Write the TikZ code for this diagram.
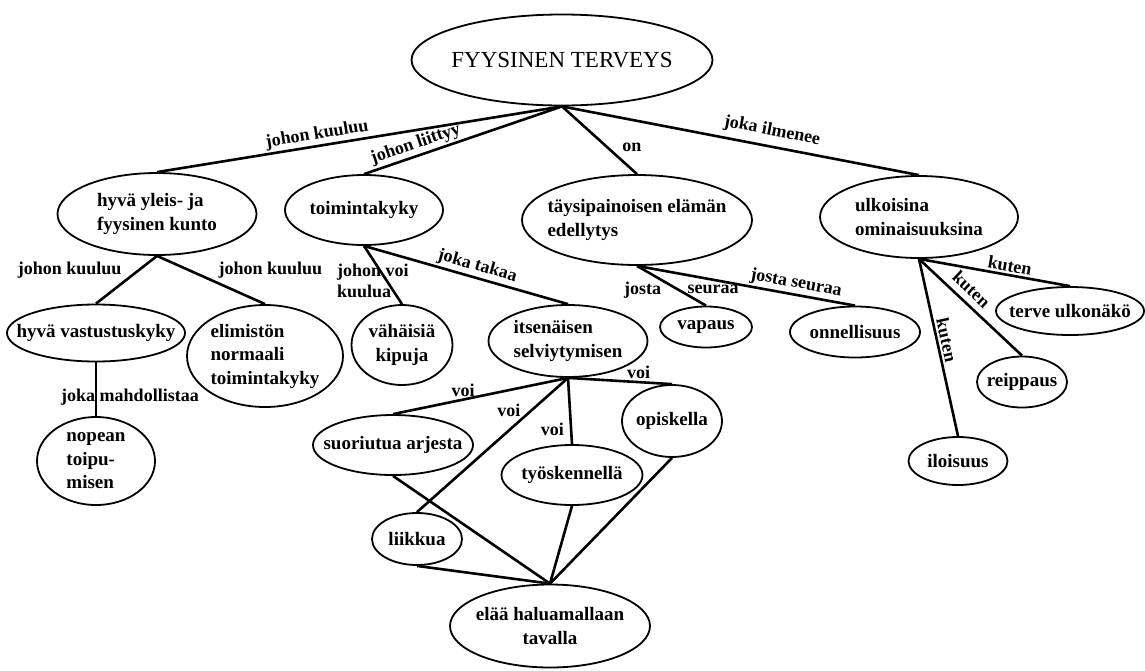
\documentclass[tikz,border=0pt]{standalone}
\usepackage{fontspec}
\setmainfont{Liberation Serif}
\usetikzlibrary{shapes.geometric}
\begin{document}
\begin{tikzpicture}[x=1pt,y=-1pt,
  concept/.style={ellipse, draw, line width=1.8pt, inner xsep=-30pt, inner ysep=-20pt,
    font=\bfseries\fontsize{19}{23.5}\selectfont},
  link/.style={line width=2.6pt},
  lbl/.style={font=\bfseries\fontsize{18}{21}\selectfont, inner sep=2pt}]
\useasboundingbox (0,0) rectangle (1145,670);

% concepts
\node[concept, minimum width=301pt, minimum height=91pt, font=\mdseries\fontsize{23}{27}\selectfont] (top) at (562,60) {FYYSINEN TERVEYS};
\node[concept, minimum width=199pt, minimum height=82pt, align=left] (kunto) at (157,214) {hyvä yleis- ja\\fyysinen kunto};
\node[concept, minimum width=158pt, minimum height=70pt] (toimi) at (364,210) {toimintakyky};
\node[concept, minimum width=230pt, minimum height=90pt, align=left] (edell) at (637,220) {täysipainoisen elämän\\edellytys};
\node[concept, minimum width=198pt, minimum height=82pt, align=left] (ulko) at (919,217) {ulkoisina\\ominaisuuksina};

\node[concept, minimum width=178pt, minimum height=57pt] (vastus) at (96,333) {hyvä vastustuskyky};
\node[concept, minimum width=156pt, minimum height=102pt, align=left] (elim) at (265,356) {elimistön\\normaali\\toimintakyky};
\node[concept, minimum width=118pt, minimum height=88pt, align=left] (nopea) at (96,461) {nopean\\toipu-\\misen};
\node[concept, minimum width=101pt, minimum height=80pt, align=center] (vahai) at (402,345) {vähäisiä\\kipuja};
\node[concept, minimum width=159pt, minimum height=72pt, align=left] (itsen) at (568,341) {itsenäisen\\selviytymisen};
\node[concept, minimum width=92pt, minimum height=41pt] (vapaus) at (706,327) {vapaus};
\node[concept, minimum width=130pt, minimum height=51pt] (onnel) at (855,332) {onnellisuus};
\node[concept, minimum width=148pt, minimum height=48pt] (terve) at (1070,311) {terve ulkonäkö};
\node[concept, minimum width=90pt, minimum height=51pt] (reipp) at (1022,382) {reippaus};
\node[concept, minimum width=99pt, minimum height=48pt] (ilo) at (958,461) {iloisuus};

\node[concept, minimum width=160pt, minimum height=60pt] (suori) at (393,445) {suoriutua arjesta};
\node[concept, minimum width=141pt, minimum height=60pt] (tyos) at (572,475) {työskennellä};
\node[concept, minimum width=100pt, minimum height=72pt] (opis) at (672,421) {opiskella};
\node[concept, minimum width=90pt, minimum height=52pt] (liik) at (417,539) {liikkua};
\node[concept, minimum width=200pt, minimum height=83pt, align=center] (elaa) at (550,626) {elää haluamallaan\\tavalla};

% links from the main concept
\draw[link] (top.south) -- node[lbl, pos=0.6, above, sloped] {johon kuuluu} (kunto.north);
\draw[link] (top.south) -- node[lbl, pos=0.72, above, sloped] {johon liittyy} (toimi.north);
\draw[link] (top.south) -- node[lbl, pos=0.6, right=12pt] {on} (edell.north);
\draw[link] (top.south) -- node[lbl, pos=0.58, above=4pt, sloped] {joka ilmenee} (ulko.north);

% physical condition
\draw[link] (kunto.south) -- node[lbl, pos=0.3, left=14pt] {johon kuuluu} (vastus.north);
\draw[link] (kunto.south) -- node[lbl, pos=0.3, right=26pt] {johon kuuluu} (elim.north);
\draw[link] (vastus.south) -- node[lbl, pos=0.65, xshift=34pt] {joka mahdollistaa} (nopea.north);

% functional capacity
\draw[link] (toimi.south) -- node[lbl, pos=0.6, xshift=-14pt, align=left] {johon voi\\kuulua} (vahai.north);
\draw[link] (toimi.south) -- node[lbl, pos=0.54, above, sloped] {joka takaa} (itsen.north);

% prerequisite of a full life
\draw[link] (edell.south) -- node[lbl, pos=0.6, left=14pt] {josta} node[lbl, pos=0.6, right=6pt] {seuraa} (vapaus.north);
\draw[link] (edell.south) -- node[lbl, pos=0.72, above, sloped] {josta seuraa} (onnel.north);

% outward features
\draw[link] (ulko.south) -- node[lbl, pos=0.59, above, sloped] {kuten} (terve.north);
\draw[link] (ulko.south) -- node[lbl, pos=0.42, above=4pt, sloped] {kuten} (reipp.north);
\draw[link] (ulko.south) -- node[lbl, pos=0.47, above, sloped] {kuten} (ilo.north);

% independent coping
\draw[link] (itsen.south) -- node[lbl, pos=0.6, above] {voi} (suori.north);
\draw[link] (itsen.south) -- node[lbl, pos=0.24, left=8pt] {voi} (liik.north);
\draw[link] (itsen.south) -- node[lbl, pos=0.78, left=4pt] {voi} (tyos.north);
\draw[link] (itsen.south) -- node[lbl, pos=0.68, above] {voi} (opis.north);

% ways of living as one wishes
\draw[link] (suori.south) -- (elaa.north);
\draw[link] (liik.south) -- (elaa.north);
\draw[link] (tyos.south) -- (elaa.north);
\draw[link] (opis.south) -- (elaa.north);
\end{tikzpicture}
\end{document}
